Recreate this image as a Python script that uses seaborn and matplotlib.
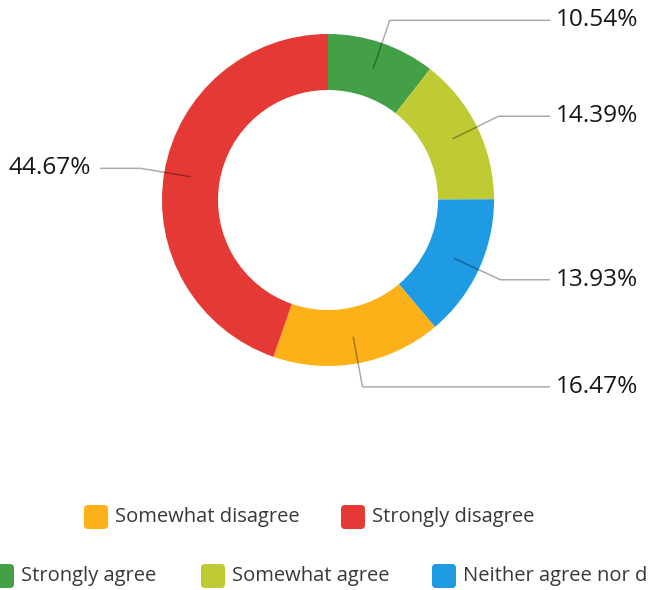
import matplotlib
matplotlib.use("Agg")
import matplotlib.pyplot as plt
from matplotlib.patches import FancyBboxPatch
import numpy as np
import seaborn as sns

# Survey response shares (percent), clockwise from 12 o'clock
categories = ["Strongly agree", "Somewhat agree", "Neither agree nor disagree",
              "Somewhat disagree", "Strongly disagree"]
shares = [10.54, 14.39, 13.93, 16.47, 44.67]
value_labels = ["10.54%", "14.39%", "13.93%", "16.47%", "44.67%"]
colors = ["#43A047", "#C0CA33", "#1E9BE3", "#FDB119", "#E53935"]

# Legend layout: two rows, in the order the entries are listed
legend_rows = [
    ["Somewhat disagree", "Strongly disagree"],
    ["Strongly agree", "Somewhat agree", "Neither agree nor disagree"],
]

sns.set_theme(style="white")
plt.rcParams["font.family"] = ["Open Sans", "DejaVu Sans"]

W, H = 649, 590
fig = plt.figure(figsize=(W / 100, H / 100), dpi=100)
ax = fig.add_axes([0, 0, 1, 1])

cx, cy = 328, 200
r_out, ring = 166, 56

palette = sns.color_palette(colors)
wedges, _ = ax.pie(
    shares, colors=palette, center=(cx, cy), radius=r_out,
    startangle=-90, counterclock=True,
    wedgeprops=dict(width=ring, linewidth=0),
)

ax.set_xlim(0, W)
ax.set_ylim(H, 0)
ax.set_aspect("equal", adjustable="box")
ax.axis("off")

# Leader lines and value labels
r_in_pt, r_elbow = 139, 190
line_kw = dict(color="black", alpha=0.33, lw=1.1, solid_capstyle="butt")
for w, lab in zip(wedges, value_labels):
    th = np.deg2rad((w.theta1 + w.theta2) / 2)
    x0, y0 = cx + r_in_pt * np.cos(th), cy + r_in_pt * np.sin(th)
    x1, y1 = cx + r_elbow * np.cos(th), cy + r_elbow * np.sin(th)
    if np.cos(th) >= 0:
        x2, tx, ha = 550, 556, "left"
    else:
        x2, tx, ha = 100, 91, "right"
    ax.plot([x0, x1, x2], [y0, y1, y1], **line_kw)
    ax.text(tx, y1, lab, ha=ha, va="center", fontsize=17.6, color="#161616")

# Legend
color_of = dict(zip(categories, colors))
row_y = [517, 576]
row_x = [[84, 341], [-10, 201, 432]]
sq = 24
for names, xs, yc in zip(legend_rows, row_x, row_y):
    for name, x in zip(names, xs):
        box = FancyBboxPatch((x, yc - sq / 2), sq, sq,
                             boxstyle="round,pad=0,rounding_size=4",
                             fc=color_of[name], ec="none", clip_on=False)
        ax.add_patch(box)
        ax.text(x + sq + 7, yc, name, ha="left", va="center",
                fontsize=14.5, color="#383838")

fig.savefig("out.png", dpi=100, facecolor="white")
